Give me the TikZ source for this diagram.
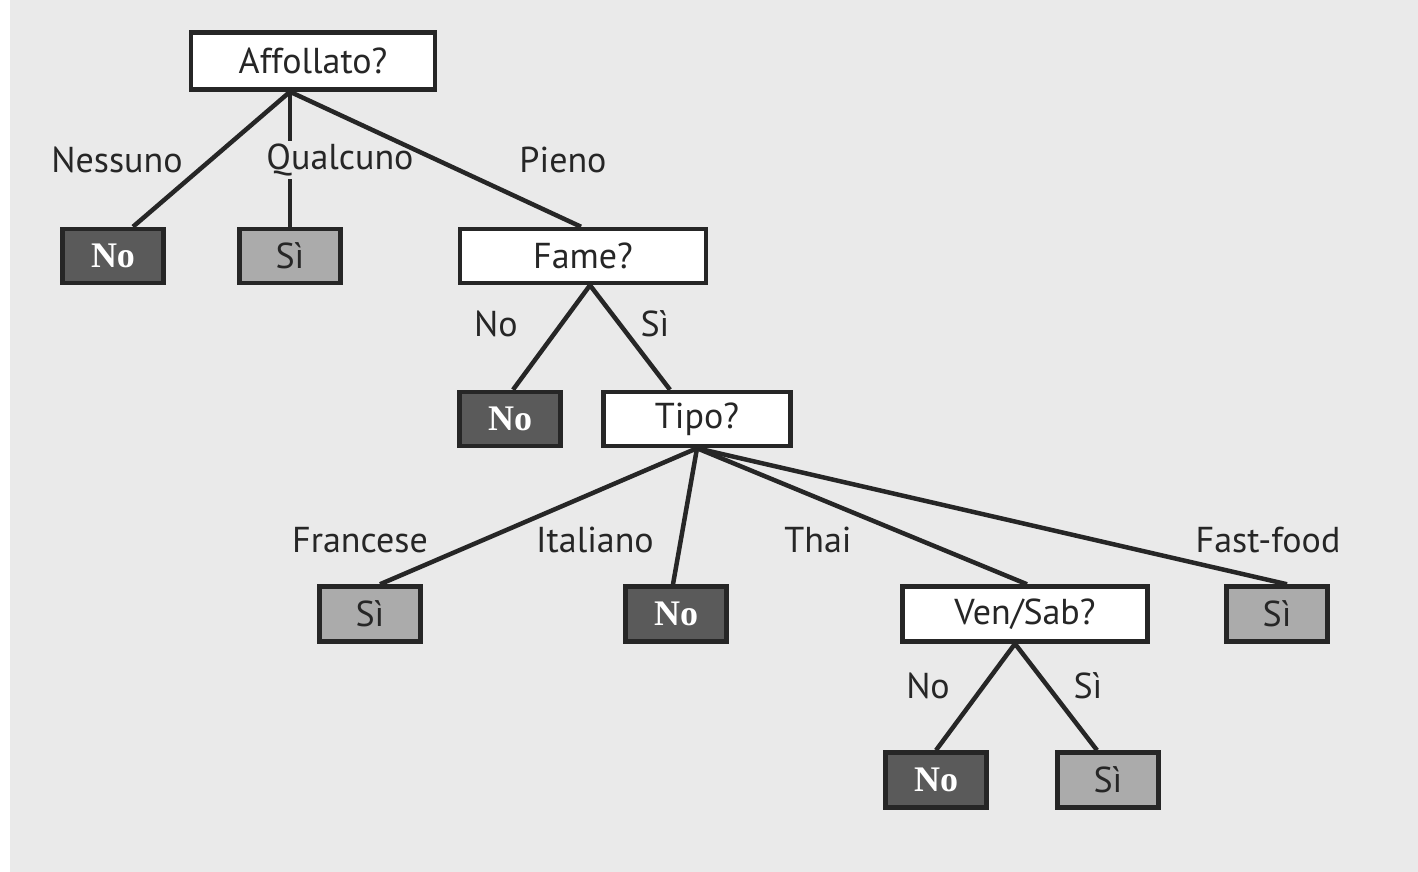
\documentclass[tikz,border=0pt]{standalone}
\usepackage{fontspec}
\setmainfont{PT Sans}
\newfontfamily\leafserif{Liberation Serif}
\definecolor{paper}{HTML}{EAEAEA}
\definecolor{ink}{HTML}{262626}
\definecolor{darkleaf}{HTML}{5A5A5A}
\definecolor{lightleaf}{HTML}{ABABAB}
\tikzset{
  txt/.style={font=\fontsize{36}{42}\selectfont, text=ink},
  quest/.style={draw=ink, line width=4.5pt, fill=white, minimum height=54pt, inner sep=0pt, txt},
  noleaf/.style={draw=ink, line width=4.5pt, fill=darkleaf, minimum width=101pt, minimum height=54pt, inner sep=0pt,
                 font=\leafserif\bfseries\fontsize{36}{42}\selectfont, text=white},
  sileaf/.style={draw=ink, line width=4.5pt, fill=lightleaf, minimum width=101pt, minimum height=54pt, inner sep=0pt, txt},
  branch/.style={draw=ink, line width=4.5pt},
  lab/.style={txt, inner sep=1pt}
}
\begin{document}
\begin{tikzpicture}[x=1pt,y=-1pt]
  % paper
  \fill[paper] (0,0) rectangle (1418,872);
  \fill[white] (0,0) rectangle (10,872);
  \useasboundingbox (0,0) rectangle (1418,872);

  % decision and leaf boxes
  \path
    (313,61)   node[quest, minimum width=244pt, minimum height=57pt] (aff)  {Affollato?}
    (113,256)  node[noleaf] (n1) {No}
    (290,256)  node[sileaf] (s1) {Sì}
    (583,256)  node[quest, minimum width=246pt] (fame) {Fame?}
    (510,419)  node[noleaf] (n2) {No}
    (697,419)  node[quest, minimum width=187pt] (tipo) {Tipo?}
    (370,614)  node[sileaf, minimum height=55pt] (s2) {Sì}
    (676,614)  node[noleaf, minimum height=55pt] (n3) {No}
    (1025,614) node[quest, minimum width=245pt, minimum height=55pt] (ven) {Ven/Sab?}
    (1277,614) node[sileaf, minimum height=55pt] (s3) {Sì}
    (936,780)  node[noleaf, minimum height=55pt] (n4) {No}
    (1108,780) node[sileaf, minimum height=55pt] (s4) {Sì};

  % branch labels
  \node[lab] (lnes) at (117,160) {Nessuno};
  \node[lab, inner ysep=3pt] (lqua) at (340,160) {Qualcuno};
  \node[lab] (lpie) at (563,160) {Pieno};
  \node[lab] (lfno) at (496,324) {No};
  \node[lab] (lfsi) at (655,324) {Sì};
  \node[lab] (lfra) at (360,540) {Francese};
  \node[lab] (lita) at (595,540) {Italiano};
  \node[lab] (ltha) at (818,540) {Thai};
  \node[lab] (lfas) at (1268,540) {Fast-food};
  \node[lab] (lvno) at (928,686) {No};
  \node[lab] (lvsi) at (1088,686) {Sì};

  % branches of the tree
  \coordinate (affout) at ([xshift=-23pt]aff.south);
  \draw[branch] (affout) -- ([xshift=20pt]n1.north);
  \draw[branch] (affout) -- (affout |- lqua.north);
  \draw[branch] (s1.north |- lqua.south) -- (s1.north);
  \draw[branch] (affout) -- ([xshift=-2pt]fame.north);
  \draw[branch] ([xshift=7pt]fame.south) -- ([xshift=3pt]n2.north);
  \draw[branch] ([xshift=7pt]fame.south) -- ([xshift=-27pt]tipo.north);
  \draw[branch] (tipo.south) -- ([xshift=10pt]s2.north);
  \draw[branch] (tipo.south) -- ([xshift=-3pt]n3.north);
  \draw[branch] (tipo.south) -- ([xshift=2pt]ven.north);
  \draw[branch] (tipo.south) -- ([xshift=10pt]s3.north);
  \draw[branch] ([xshift=-10pt]ven.south) -- (n4.north);
  \draw[branch] ([xshift=-10pt]ven.south) -- ([xshift=-11pt]s4.north);
\end{tikzpicture}
\end{document}
